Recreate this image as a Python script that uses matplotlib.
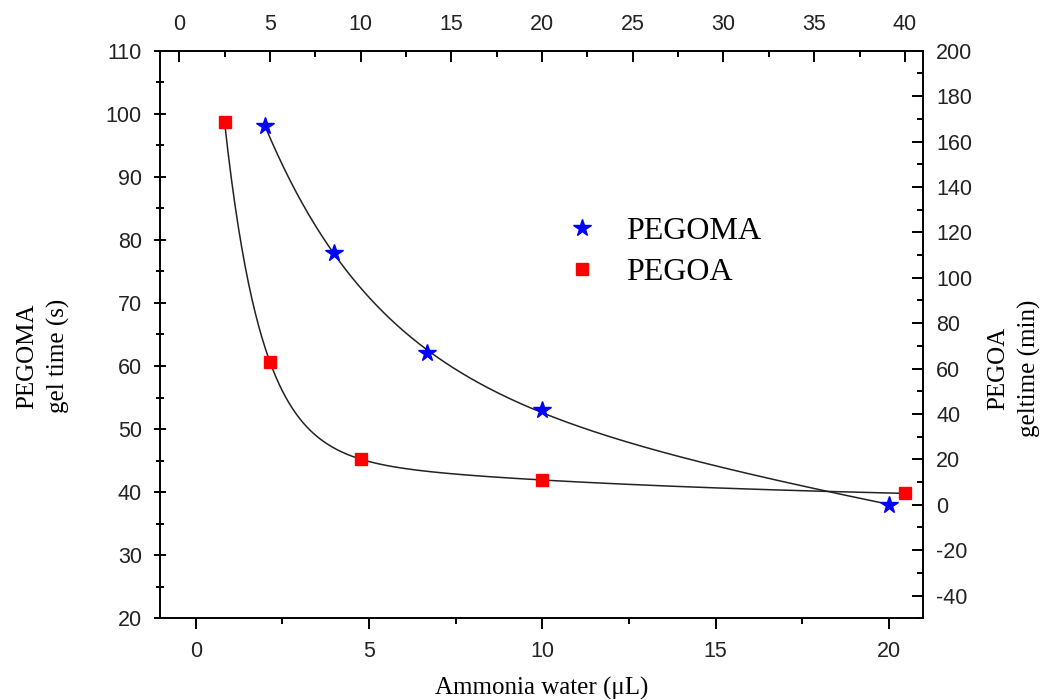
import numpy as np
import matplotlib
matplotlib.use("Agg")
import matplotlib.pyplot as plt
from matplotlib.ticker import MultipleLocator

plt.rcParams["axes.unicode_minus"] = False

# PEGOMA: agua amoniacal (eje inferior) vs tiempo de gel en s (eje izquierdo)
pegoma_agua = [2, 4, 6.67, 10, 20]
pegoma_tiempo = [98, 78, 62, 53, 38]

# PEGOA: agua amoniacal (eje superior) vs tiempo de gel en min (eje derecho)
pegoa_agua = [2.5, 5, 10, 20, 40]
pegoa_tiempo = [168.5, 63, 20, 11, 5]

serif = "Liberation Serif"
sans = "Liberation Sans"


def ajuste_expdec2(x, y):
    # ajuste y0 + A1*exp(-x/t1) + A2*exp(-x/t2) con busqueda en malla de t1, t2
    x = np.asarray(x, float)
    y = np.asarray(y, float)
    taus = np.geomspace(0.3, 200, 120)
    mejor = None
    for i, t1 in enumerate(taus):
        for t2 in taus[i + 1:]:
            M = np.column_stack([np.ones_like(x), np.exp(-x / t1), np.exp(-x / t2)])
            coef, *_ = np.linalg.lstsq(M, y, rcond=None)
            res = np.sum((M @ coef - y) ** 2)
            if mejor is None or res < mejor[0]:
                mejor = (res, t1, t2, coef)
    _, t1, t2, c = mejor
    return lambda xx: c[0] + c[1] * np.exp(-xx / t1) + c[2] * np.exp(-xx / t2)


fig = plt.figure(figsize=(10.45, 7), dpi=100)
pos = [160 / 1045, 1 - 618.3 / 700, 763 / 1045, 567.6 / 700]
ax = fig.add_axes(pos)
ax2 = fig.add_axes(pos, frameon=False)
ax2.patch.set_visible(False)

for s in ax.spines.values():
    s.set_linewidth(1.4)

fs_ticks = 15.5

# eje inferior / izquierdo
ax.set_xlim(-1.03, 20.98)
ax.set_ylim(20, 110)
ax.xaxis.set_major_locator(MultipleLocator(5))
ax.xaxis.set_minor_locator(MultipleLocator(2.5))
ax.yaxis.set_major_locator(MultipleLocator(10))
ax.yaxis.set_minor_locator(MultipleLocator(5))
ax.tick_params(axis="x", which="major", direction="out", length=8, width=1.4, pad=8, labelsize=fs_ticks)
ax.tick_params(axis="x", which="minor", direction="out", length=4.5, width=1.4)
ax.tick_params(axis="y", which="major", direction="inout", length=8, width=1.4, pad=9, labelsize=fs_ticks)
ax.tick_params(axis="y", which="minor", direction="inout", length=6, width=1.4)

# eje superior / derecho
ax2.set_xlim(-1.06, 41.0)
ax2.set_ylim(-50, 200)
ax2.xaxis.tick_top()
ax2.yaxis.tick_right()
ax2.xaxis.set_major_locator(MultipleLocator(5))
ax2.xaxis.set_minor_locator(MultipleLocator(2.5))
ax2.yaxis.set_minor_locator(MultipleLocator(10))
ax2.set_yticks(np.arange(-40, 201, 20))
ax2.tick_params(axis="x", which="major", direction="in", length=8, width=1.4, pad=11, labelsize=fs_ticks)
ax2.tick_params(axis="x", which="minor", direction="in", length=4.5, width=1.4)
ax2.tick_params(axis="y", which="major", direction="in", length=8, width=1.4, pad=9.5, labelsize=fs_ticks)
ax2.tick_params(axis="y", which="minor", direction="in", length=4.5, width=1.4)

for a in (ax, ax2):
    for lbl in a.get_xticklabels() + a.get_yticklabels():
        lbl.set_fontfamily(sans)
        lbl.set_color("#222222")

# curvas de ajuste
f1 = ajuste_expdec2(pegoma_agua, pegoma_tiempo)
xx1 = np.linspace(min(pegoma_agua), max(pegoma_agua), 300)
ax.plot(xx1, f1(xx1), color="#222222", lw=1.1, zorder=2)

f2 = ajuste_expdec2(pegoa_agua, pegoa_tiempo)
xx2 = np.linspace(min(pegoa_agua), max(pegoa_agua), 400)
ax2.plot(xx2, f2(xx2), color="#222222", lw=1.1, zorder=2)

h1, = ax.plot(pegoma_agua, pegoma_tiempo, linestyle="none", marker="*", ms=13,
              color="#0000ff", zorder=3, label="PEGOMA")
h2, = ax2.plot(pegoa_agua, pegoa_tiempo, linestyle="none", marker="s", ms=9,
               color="#ff0000", zorder=3, label="PEGOA")

fig.legend(handles=[h1, h2], loc="center left", bbox_to_anchor=(553 / 1045, 1 - 252 / 700),
           frameon=False, prop={"family": serif, "size": 23}, handlelength=0.8,
           handletextpad=1.0, labelspacing=0.35, borderpad=0, numpoints=1)

# etiquetas de los ejes
fig.text(542 / 1045, 1 - 688 / 700, "Ammonia water (\u03bcL)", family=serif, fontsize=18,
         ha="center", va="center")
fig.text(43 / 1045, 1 - 356 / 700, "PEGOMA\ngel time (s)", family=serif, fontsize=18,
         ha="center", va="center", rotation=90, linespacing=1.45, multialignment="center")
fig.text(1014 / 1045, 1 - 368 / 700, "PEGOA\ngeltime (min)", family=serif, fontsize=18,
         ha="center", va="center", rotation=90, linespacing=1.45, multialignment="center")

fig.savefig("out.png", dpi=100)
